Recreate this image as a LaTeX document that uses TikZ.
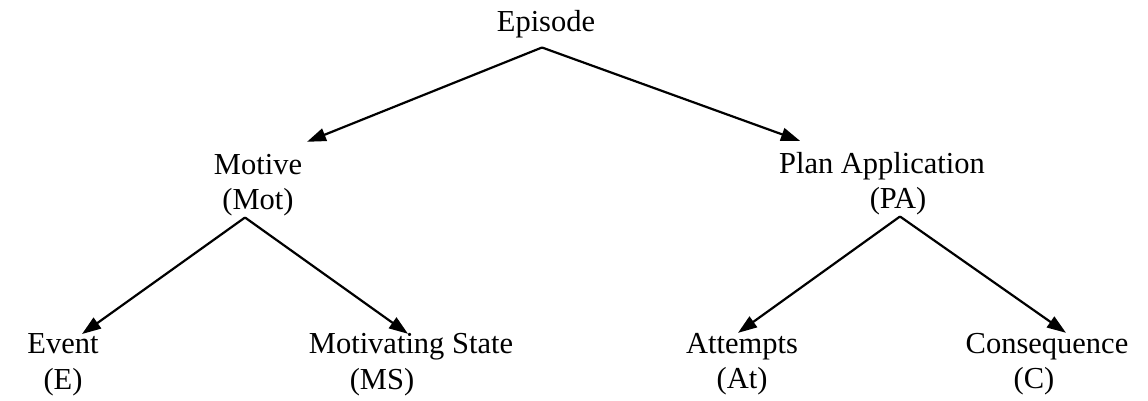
\documentclass[tikz,border=0pt]{standalone}
\usepackage{fontspec}
\setmainfont{Liberation Serif}
\usetikzlibrary{arrows.meta}

\begin{document}
\begin{tikzpicture}[x=0.5pt, y=-0.5pt,
                    every node/.style={align=center, inner sep=0pt, outer sep=0pt,
                    font=\fontsize{15.25pt}{17.5pt}\selectfont, anchor=base},
                    link/.style={-{Triangle[length=9.5pt, width=6.5pt]}, line width=1.1pt}]
    \useasboundingbox (0,0) rectangle (1148,401);
    \node (ep)  at (546,32)  {Episode};
    \node (mot) at (258,210) {Motive\\(Mot)};
    \node (pa)  at (882,209) {Plan Application\\\hspace*{16pt}(PA)};
    \node (ev)  at (63,389)  {Event\\(E)};
    \node (ms)  at (411,389) {Motivating State\\(MS)\hspace*{29pt}};
    \node (at)  at (742,388) {Attempts\\(At)};
    \node (co)  at (1047,388) {Consequence\\(C)\hspace*{13pt}};
    \draw [link] ([shift={(-4,9)}]ep.south) -- ([shift={(49,-13)}]mot.north);
    \draw [link] ([shift={(-4,9)}]ep.south) -- ([shift={(-82,-12)}]pa.north);
    \draw [link] ([shift={(-13,1)}]mot.south) -- ([shift={(19,0)}]ev.north);
    \draw [link] ([shift={(-13,1)}]mot.south) -- ([shift={(-3,0)}]ms.north);
    \draw [link] ([shift={(18,1)}]pa.south) -- ([shift={(-4,0)}]at.north);
    \draw [link] ([shift={(18,1)}]pa.south) -- ([shift={(19,0)}]co.north);
\end{tikzpicture}
\end{document}
